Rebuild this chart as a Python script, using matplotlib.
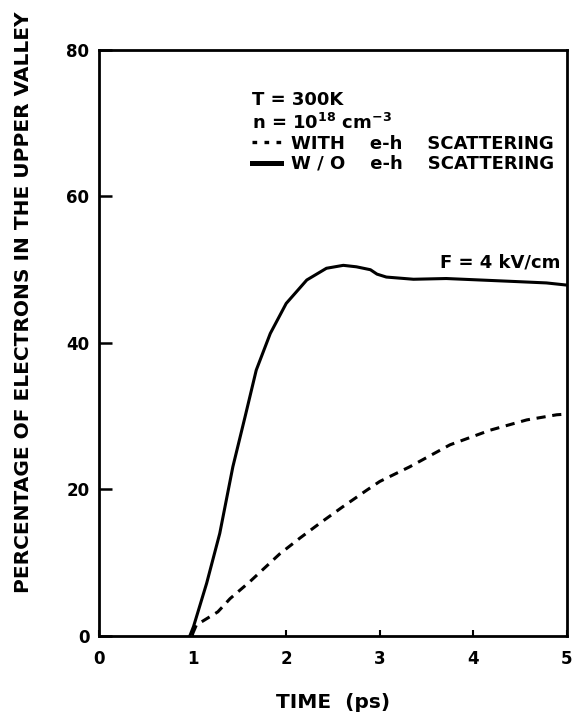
import matplotlib.pyplot as plt
from matplotlib.lines import Line2D

# values
solid_t = [0.97, 1.01, 1.15, 1.29, 1.43, 1.56, 1.68, 1.83, 2.0, 2.22, 2.43,
           2.61, 2.75, 2.9, 2.97, 3.07, 3.36, 3.71, 4.07, 4.43, 4.78, 5.0]
solid_v = [0, 1.3, 7.2, 14.0, 23.1, 29.9, 36.3, 41.3, 45.4, 48.6, 50.2,
           50.6, 50.4, 50.0, 49.4, 49.0, 48.7, 48.8, 48.6, 48.4, 48.2, 47.9]

dashed_t = [1.0, 1.04, 1.27, 1.4, 1.61, 1.93, 2.15, 2.36, 2.6, 2.86, 3.0,
            3.32, 3.75, 4.18, 4.57, 4.89, 5.0]
dashed_v = [0.3, 1.5, 3.3, 5.1, 7.4, 11.2, 13.4, 15.4, 17.6, 19.9, 21.1,
            23.1, 26.1, 28.1, 29.5, 30.2, 30.3]

x_ticks = [0, 1, 2, 3, 4, 5]
y_ticks = [0, 20, 40, 60, 80]

plt.rcParams['font.family'] = ['DejaVu Sans']
plt.rcParams['font.weight'] = 'bold'
plt.rcParams['mathtext.default'] = 'bf'

fig = plt.figure(figsize=(5.73, 7.18), dpi=100)
ax = fig.add_axes([0.1728, 0.1142, 0.8167, 0.8162])

ax.plot(solid_t, solid_v, color='black', lw=2.2)
ax.plot(dashed_t, dashed_v, color='black', lw=2.2, dashes=(3, 2.2))

ax.set_xlim(0, 5)
ax.set_ylim(0, 80)
ax.set_xticks(x_ticks)
ax.set_yticks(y_ticks)
ax.tick_params(axis='y', direction='in', length=9, width=1.8,
               labelsize=12, pad=7)
ax.tick_params(axis='x', direction='in', length=4, width=1.5,
               labelsize=12, pad=10)
for s in ax.spines.values():
    s.set_linewidth(2)

ax.set_xlabel('TIME  (ps)', fontsize=14.5, fontweight='bold', labelpad=18)
ax.set_ylabel('PERCENTAGE OF ELECTRONS IN THE UPPER VALLEY', fontsize=14.5,
              fontweight='bold')
ax.yaxis.set_label_coords(-0.141, 0.57)

handles = [Line2D([], [], color='black', lw=2.4, dashes=(1.4, 2.2)),
           Line2D([], [], color='black', lw=3.6)]
labels = ['WITH    e-h    SCATTERING', 'W / O    e-h    SCATTERING']
leg = ax.legend(handles, labels, loc='upper left',
                bbox_to_anchor=(0.307, 0.945), frameon=False,
                title='T = 300K\nn = 10$^{18}$ cm$^{-3}$',
                alignment='left', handlelength=1.6, handletextpad=0.6,
                labelspacing=0.12, borderpad=0,
                prop={'weight': 'bold', 'size': 13},
                title_fontproperties={'weight': 'bold', 'size': 13})

ax.text(0.985, 0.628, 'F = 4 kV/cm', transform=ax.transAxes, ha='right',
        va='baseline', fontsize=13, fontweight='bold')

fig.savefig('out.png', dpi=100)
